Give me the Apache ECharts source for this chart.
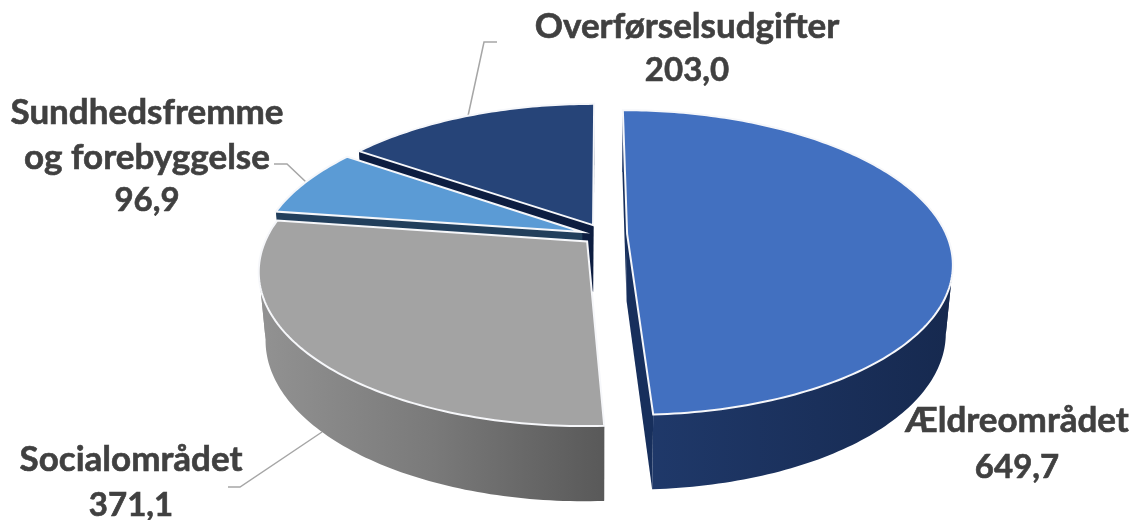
<!DOCTYPE html>
<html>
<head>
<meta charset="utf-8">
<style>
  html, body { margin: 0; padding: 0; background: #fff; }
  #chart { width: 1139px; height: 520px; }
</style>
<script src="https://cdn.jsdelivr.net/npm/echarts@6/dist/echarts.min.js"></script>
</head>
<body>
<div id="chart"></div>
<script>
const categories = ['Ældreområdet', 'Socialområdet', 'Sundhedsfremme og forebyggelse', 'Overførselsudgifter']
const values = [649.7, 371.1, 96.9, 203.0]
const valueLabels = ['649,7', '371,1', '96,9', '203,0']

// look of the tilted pie
const topColors = ['#4270c0', '#a3a3a3', '#5b9bd5', '#264478']
const faceColors = ['#172f5c', '#5a5a5a', '#223f5c', '#0d1d40']
const wallStops = [
  ['#203a6c', '#16294f'],
  ['#929292', '#7a7a7a', '#595959'],
  ['#223f5c', '#223f5c'],
  ['#0d1d40', '#0d1d40'],
]
const paintOrder = [3, 2, 1, 0]
// how far each slice is pulled out, in pie radii
const shiftU = [0.085, -0.04, -0.056, -0.022]
const shiftV = [0.0, 0.05, -0.014, -0.061]

const cx = 600, cy = 234, rx = 319, ry = 147, persp = 0.187, depth = 67

let total = values.reduce((a, b) => a + b, 0)
let run = 0
const seriesData = values.map((v) => {
  const item = [v, run]
  run += v
  return item
})

function project(u, v) {
  const s = 1 / (1 - persp * v)
  return { x: cx + rx * u * s, y: cy + ry * v * s, s }
}
function topPoint(u, v) {
  const p = project(u, v)
  return [p.x, p.y]
}
function bottomPoint(u, v) {
  const p = project(u, v)
  return [cx + (p.x - cx) * 0.98, p.y + depth * (1 + 0.5 * (p.s - 1))]
}

function renderSlice(params, api) {
  const i = params.dataIndex
  const from = api.value(1) / total * 360
  const to = from + api.value(0) / total * 360
  const du = shiftU[i], dv = shiftV[i]
  const rank = paintOrder.indexOf(i) * 100
  const rimAt = (deg) => {
    const a = deg * Math.PI / 180
    return [du + Math.sin(a), dv - Math.cos(a)]
  }

  const angles = []
  for (let d = from; d < to; d += 1) angles.push(d)
  angles.push(to)

  const children = []
  const poly = (points, fill, z, extra) => children.push({
    type: 'polygon',
    z2: rank + z,
    shape: { points },
    style: Object.assign({ fill }, extra || {}),
    silent: true,
  })

  // inner faces
  const innerFace = (deg) => {
    const [u, v] = rimAt(deg)
    poly([topPoint(u, v), topPoint(du, dv), bottomPoint(du, dv), bottomPoint(u, v)], faceColors[i], 1)
  }
  innerFace(from)
  innerFace(to)

  // outer wall, cut where it turns round so the ribbon never folds on itself
  const stops = wallStops[i]
  const xs = angles.map((d) => topPoint(...rimAt(d))[0])
  const x0 = Math.min(...xs), x1 = Math.max(...xs)
  const wallFill = new echarts.graphic.LinearGradient(x0, 0, x1, 0,
    stops.map((color, k) => ({ offset: k / (stops.length - 1), color })), true)
  let piece = [angles[0]]
  let lastSign = 0
  const flush = () => {
    if (piece.length > 1) {
      const up = piece.map((d) => topPoint(...rimAt(d)))
      const down = piece.map((d) => bottomPoint(...rimAt(d))).reverse()
      poly(up.concat(down), wallFill, 2)
    }
  }
  for (let k = 1; k < angles.length; k++) {
    const sign = Math.sign(xs[k] - xs[k - 1])
    if (lastSign && sign && sign !== lastSign) {
      flush()
      piece = [angles[k - 1]]
    }
    piece.push(angles[k])
    if (sign) lastSign = sign
  }
  flush()

  // top
  const top = [topPoint(du, dv)].concat(angles.map((d) => topPoint(...rimAt(d))))
  poly(top, topColors[i], 3, { stroke: '#f6f7fa', lineWidth: 2, lineJoin: 'miter' })

  return { type: 'group', children }
}

const textAt = (text, x, y, fontSize) => ({
  type: 'text',
  x, y,
  silent: true,
  style: {
    text,
    fill: '#404040',
    stroke: '#404040',
    lineWidth: 0.6,
    textAlign: 'center',
    textVerticalAlign: 'middle',
    fontFamily: 'Lato',
    fontWeight: 'bold',
    fontSize,
  },
})
const nameSize = 35
const numberSize = 33
const leader = (points) => ({
  type: 'polyline',
  silent: true,
  shape: { points },
  style: { stroke: '#a6a6a6', lineWidth: 1.5, fill: null },
})

const myChart = echarts.init(document.getElementById('chart'), null, { renderer: 'canvas' })
myChart.setOption({
  animation: false,
  backgroundColor: '#ffffff',
  graphic: [
    leader([[468, 116], [484, 42], [497, 42]]),
    leader([[306, 182], [287, 164], [274, 164]]),
    leader([[322, 432], [240, 487], [228, 487]]),
    textAt(categories[3], 687, 27, nameSize),
    textAt(valueLabels[3], 687, 70, numberSize),
    textAt('Sundhedsfremme', 147, 113, nameSize),
    textAt('og forebyggelse', 147, 158, nameSize),
    textAt(valueLabels[2], 147, 200, numberSize),
    textAt(categories[1], 131, 460, nameSize),
    textAt(valueLabels[1], 131, 505, numberSize),
    textAt(categories[0], 1017, 421, nameSize),
    textAt(valueLabels[0], 1017, 467, numberSize),
  ],
  series: [
    {
      type: 'custom',
      coordinateSystem: 'none',
      renderItem: renderSlice,
      data: seriesData,
      silent: true,
    },
  ],
})
</script>
</body>
</html>
